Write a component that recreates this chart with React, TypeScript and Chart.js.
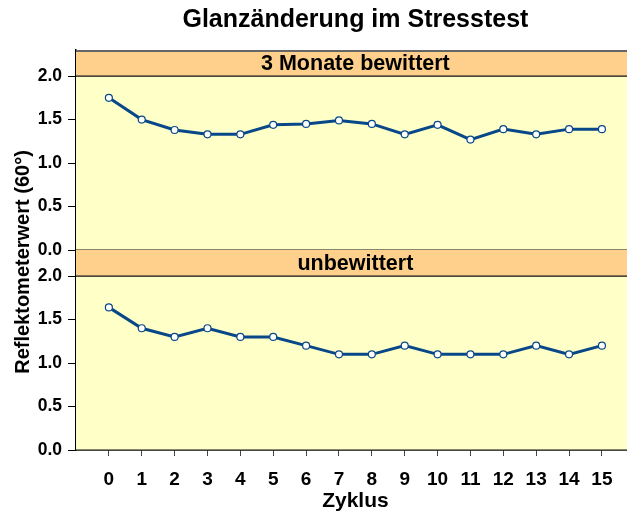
import React, { useEffect, useRef } from "react";
import { Chart, registerables } from "chart.js";

Chart.register(...registerables);

const cycles = [0, 1, 2, 3, 4, 5, 6, 7, 8, 9, 10, 11, 12, 13, 14, 15];
const weatheredValues = [1.75, 1.5, 1.38, 1.33, 1.33, 1.44, 1.45, 1.49, 1.45, 1.33, 1.44, 1.27, 1.39, 1.33, 1.39, 1.39];
const unweatheredValues = [1.64, 1.4, 1.3, 1.4, 1.3, 1.3, 1.2, 1.1, 1.1, 1.2, 1.1, 1.1, 1.1, 1.2, 1.1, 1.2];
const yTickValues = [0, 0.5, 1.0, 1.5, 2.0];
const panelLabels = ["3 Monate bewittert", "unbewittert"];
const chartTitle = "Glanzänderung im Stresstest";
const yTitle = "Reflektometerwert (60°)";
const xTitle = "Zyklus";

const FONT = "'Liberation Sans', Arial, Helvetica, sans-serif";
const LINE = "#084889";
const STRIP = "#FFD08C";
const PANEL = "#FFFFC8";

export default function App() {
  const ref = useRef<HTMLCanvasElement | null>(null);

  useEffect(() => {
    document.body.style.margin = "0";
    const canvas = ref.current!;
    const panelsPlugin = {
      id: "panels",
      beforeDatasetsDraw(chart: any) {
        const { ctx, chartArea } = chart;
        const axes = [chart.scales.yTop, chart.scales.yBot];
        ctx.save();
        axes.forEach((s: any, i: number) => {
          const p2 = s.getPixelForValue(2);
          const p0 = s.getPixelForValue(0);
          ctx.fillStyle = STRIP;
          ctx.fillRect(chartArea.left, s.top, chartArea.right - chartArea.left, p2 - s.top);
          ctx.fillStyle = PANEL;
          ctx.fillRect(chartArea.left, p2, chartArea.right - chartArea.left, p0 - p2);
          ctx.strokeStyle = "#111";
          ctx.lineWidth = 1.2;
          ctx.beginPath();
          ctx.moveTo(chartArea.left, p2);
          ctx.lineTo(chartArea.right, p2);
          ctx.moveTo(chartArea.left, p0);
          ctx.lineTo(chartArea.right, p0);
          ctx.stroke();
          ctx.fillStyle = "#000";
          ctx.font = `bold 21.5px ${FONT}`;
          ctx.textAlign = "center";
          ctx.textBaseline = "middle";
          ctx.fillText(panelLabels[i], (chartArea.left + chartArea.right) / 2, (s.top + p2) / 2 + 1);
        });
        ctx.strokeStyle = "#666";
        ctx.lineWidth = 2;
        ctx.beginPath();
        ctx.moveTo(chartArea.left, chartArea.top + 1);
        ctx.lineTo(chartArea.right, chartArea.top + 1);
        ctx.stroke();
        ctx.restore();
      },
      afterDraw(chart: any) {
        const { ctx, chartArea } = chart;
        const cx = (chartArea.left + chartArea.right) / 2;
        ctx.save();
        ctx.fillStyle = "#000";
        ctx.textAlign = "center";
        ctx.textBaseline = "middle";
        ctx.font = `bold 25px ${FONT}`;
        ctx.fillText(chartTitle, cx, 20);
        ctx.font = `bold 21px ${FONT}`;
        ctx.fillText(xTitle, cx, 501);
        ctx.translate(23, 262);
        ctx.rotate(-Math.PI / 2);
        ctx.font = `bold 20px ${FONT}`;
        ctx.fillText(yTitle, 0, 0);
        ctx.restore();
      },
    };

    const yAxis = (stackWeight: number) => ({
      type: "linear",
      position: "left",
      stack: "panels",
      stackWeight,
      min: 0,
      max: 2.3,
      afterBuildTicks: (s: any) => {
        s.ticks = yTickValues.map((v) => ({ value: v }));
      },
      afterFit: (s: any) => {
        s.width = 76;
      },
      ticks: {
        color: "#000",
        font: { family: FONT, size: 17.5, weight: "bold" },
        padding: 6,
        callback: (v: any) => Number(v).toFixed(1),
      },
      grid: { display: true, drawOnChartArea: false, drawTicks: true, tickLength: 8, color: "#000", lineWidth: 1 },
      border: { display: true, color: "#000", width: 1.5 },
    });

    const chart = new Chart(canvas, {
      type: "line",
      data: {
        datasets: [
          {
            data: cycles.map((c, i) => ({ x: c, y: weatheredValues[i] })),
            yAxisID: "yTop",
            borderColor: LINE,
            borderWidth: 3,
            pointRadius: 3.5,
            pointBackgroundColor: "#FFFFFF",
            pointBorderColor: LINE,
            pointBorderWidth: 1.2,
            tension: 0,
          },
          {
            data: cycles.map((c, i) => ({ x: c, y: unweatheredValues[i] })),
            yAxisID: "yBot",
            borderColor: LINE,
            borderWidth: 3,
            pointRadius: 3.5,
            pointBackgroundColor: "#FFFFFF",
            pointBorderColor: LINE,
            pointBorderWidth: 1.2,
            tension: 0,
          },
        ],
      },
      options: {
        responsive: false,
        animation: false,
        events: [],
        layout: { padding: { top: 50, left: 0, right: 0, bottom: 0 } },
        plugins: { legend: { display: false }, title: { display: false }, tooltip: { enabled: false } },
        scales: {
          x: {
            type: "linear",
            min: -1,
            max: 16,
            afterBuildTicks: (s: any) => {
              s.ticks = cycles.map((v) => ({ value: v }));
            },
            afterFit: (s: any) => {
              s.height = 64;
            },
            ticks: {
              color: "#000",
              font: { family: FONT, size: 19, weight: "bold" },
              padding: 12,
              maxRotation: 0,
              autoSkip: false,
            },
            grid: { display: true, drawOnChartArea: false, drawTicks: true, tickLength: 6, color: "#444", lineWidth: 1 },
            border: { display: true, color: "#000", width: 1.5 },
          },
          yBot: yAxis(1) as any,
          yTop: yAxis(1) as any,
        },
      } as any,
      plugins: [panelsPlugin],
    });
    return () => chart.destroy();
  }, []);

  return (
    <div style={{ width: 627, height: 514, overflow: "hidden" }}>
      <canvas ref={ref} width={640} height={514} style={{ display: "block", width: 640, height: 514 }} />
    </div>
  );
}
